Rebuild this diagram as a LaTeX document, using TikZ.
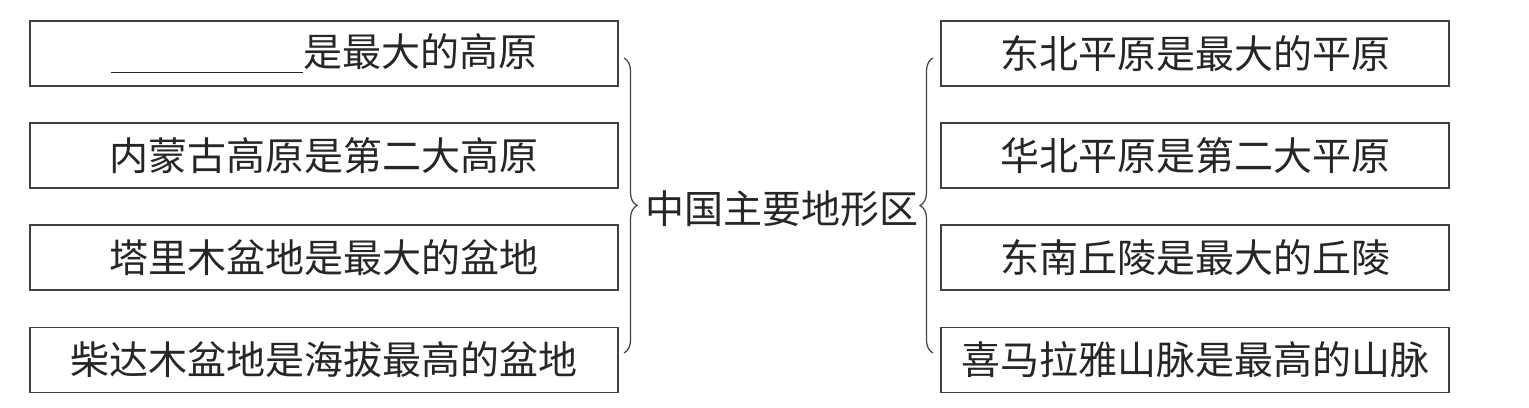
\documentclass[tikz,border=0pt]{standalone}
\usepackage{fontspec}
\newfontfamily\cjk{Noto Sans CJK SC}
\usetikzlibrary{decorations.pathreplacing}
\tikzset{
  box/.style={draw=black!75, line width=0.7pt, rectangle, minimum height=32.5pt, inner sep=0pt, font=\cjk\fontsize{19.5pt}{20pt}\selectfont, text=black!85},
  lbox/.style={box, minimum width=294pt},
  rbox/.style={box, minimum width=254pt},
  bracestyle/.style={draw=black!75, line width=0.6pt, decorate, decoration={brace, amplitude=6.5pt}},
}
\begin{document}
\begin{tikzpicture}[x=0.5pt,y=-0.5pt]
\useasboundingbox (0,0) rectangle (1529,407);
\node[lbox] (l1) at (324,53.5) {\rule[-3pt]{96pt}{0.6pt}是最大的高原};
\node[lbox] (l2) at (324,155.5) {内蒙古高原是第二大高原};
\node[lbox] (l3) at (324,257.5) {塔里木盆地是最大的盆地};
\node[lbox] (l4) at (324,360) {柴达木盆地是海拔最高的盆地};
\node[rbox] (r1) at (1195,53.5) {东北平原是最大的平原};
\node[rbox] (r2) at (1195,155.5) {华北平原是第二大平原};
\node[rbox] (r3) at (1195,257.5) {东南丘陵是最大的丘陵};
\node[rbox] (r4) at (1195,360) {喜马拉雅山脉是最高的山脉};
\node[font=\cjk\fontsize{19.5pt}{20pt}\selectfont, text=black!85, inner sep=0pt] (c) at (781.5,209) {中国主要地形区};
\coordinate (lbt) at (624,58);
\coordinate (lbb) at (624,353);
\coordinate (rbt) at (933,58);
\coordinate (rbb) at (933,353);
\draw[bracestyle] (lbt) -- (lbb);
\draw[bracestyle] (rbb) -- (rbt);
\end{tikzpicture}
\end{document}
